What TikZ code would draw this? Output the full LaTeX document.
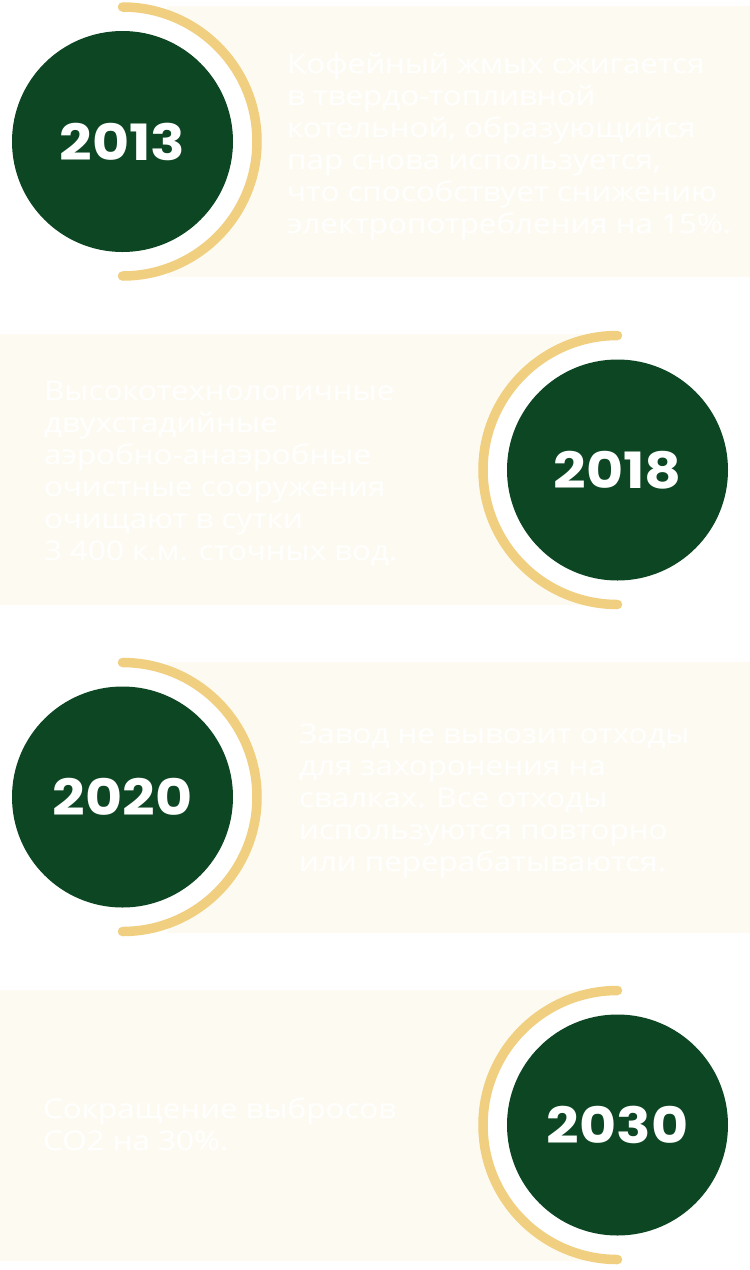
\documentclass[tikz,border=0pt]{standalone}
\usepackage{fontspec}
\newfontfamily\yearfont{Poppins}[BoldFont={* Bold}, FakeStretch=1.14]
\newfontfamily\bodyfont{Open Sans}[FakeStretch=1.16]
\definecolor{dgreen}{HTML}{0D4623}
\definecolor{gold}{HTML}{F0CF80}
\definecolor{cream}{HTML}{FDFBF1}
\tikzset{
  panel/.style={fill=cream, draw=none},
  disc/.style={circle, fill=dgreen, minimum size=221pt, inner sep=0pt, text=white,
    font=\yearfont\bfseries\fontsize{50}{50}\selectfont},
  ring/.style={draw=gold, line width=9.5pt, line cap=round},
  gap/.style={fill=white, draw=none},
  body/.style={anchor=base west, inner sep=0pt, text=white, align=left,
    font=\bodyfont\fontsize{27}{32}\selectfont}
}
\begin{document}
\begin{tikzpicture}[x=1pt,y=-1pt]
\useasboundingbox (0,0) rectangle (750,1270);
% panels
\fill[panel] (167,6) rectangle (750,277);
\fill[panel] (0,334) rectangle (583,605);
\fill[panel] (167,662) rectangle (750,933);
\fill[panel] (0,990) rectangle (583,1261);
% white gaps inside arcs
\fill[gap] (122.5,141.5) circle (130);
\fill[gap] (617.5,470) circle (130);
\fill[gap] (122.5,797) circle (130);
\fill[gap] (617.5,1125) circle (130);
% discs
\node[disc] (y2013) at (122.5,141.5) {2013};
\node[disc] (y2018) at (617.5,470) {2018};
\node[disc] (y2020) at (122.5,797) {2020};
\node[disc] (y2030) at (617.5,1125) {2030};
% arcs
\draw[ring] (122.5,7) arc[start angle=-90, end angle=90, radius=134.5];
\draw[ring] (617.5,335.5) arc[start angle=-90, end angle=-270, radius=134.5];
\draw[ring] (122.5,662.5) arc[start angle=-90, end angle=90, radius=134.5];
\draw[ring] (617.5,990.5) arc[start angle=-90, end angle=-270, radius=134.5];
% texts (anchored at the baseline of the last line)
\node[body] (t2013) at (287,233) {Кофейный жмых сжигается\\в твердо-топливной\\котельной, образующийся\\пар снова используется,\\что способствует снижению\\электропотребления на 15\%.};
\node[body] (t2018) at (44,560) {Высокотехнологичные\\двухстадийные\\аэробно-анаэробные\\очистные сооружения\\очищают в сутки\\3 400 к.м. сточных вод.};
\node[body] (t2020) at (299,871) {Завод не вывозит отходы\\для захоронения на\\свалках. Все отходы\\используются повторно\\или перерабатываются.};
\node[body] (t2030) at (43,1150) {Сокращение выбросов\\СО2 на 30\%.};
\end{tikzpicture}
\end{document}
